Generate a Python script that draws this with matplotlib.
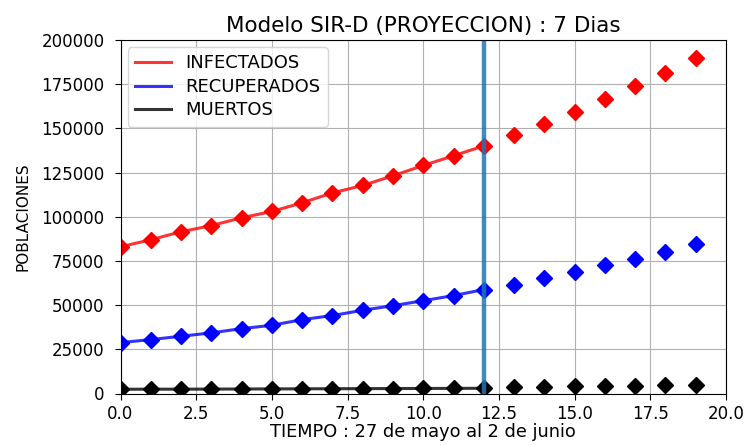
import numpy as np
import matplotlib
matplotlib.use("Agg")
from matplotlib import pyplot as plt

# dias observados y proyectados
dias = list(range(0, 13))
dias_proy = list(range(13, 20))

infectados = [83000, 87000, 91500, 95000, 99400, 103000, 107900, 113500,
              117700, 123200, 129000, 134500, 140100]
recuperados = [28800, 30500, 32400, 34300, 36700, 38600, 41800, 44100,
               47100, 49700, 52500, 55400, 58800]
muertos = [2400, 2450, 2450, 2500, 2550, 2600, 2650, 2700, 2750, 2800,
           2850, 2900, 2950]

infectados_proy = [146300, 152500, 159300, 166700, 174000, 181500, 189600]
recuperados_proy = [61600, 65400, 68800, 72900, 76300, 80100, 84700]
muertos_proy = [3900, 3950, 4000, 4050, 4100, 4900, 5000]

corte = 12

fig = plt.figure(figsize=(7.45, 4.45), dpi=100)
ax = fig.add_axes([120.5 / 745, 1 - 393.5 / 445, (726 - 120.5) / 745, (393.5 - 40) / 445])

ax.plot(dias, infectados, color="red", lw=2.2, alpha=0.8, label="INFECTADOS")
ax.plot(dias, recuperados, color="blue", lw=2.2, alpha=0.8, label="RECUPERADOS")
ax.plot(dias, muertos, color="black", lw=2.2, alpha=0.8, label="MUERTOS")

ax.plot(dias, infectados, "D", color="red", ms=8.5)
ax.plot(dias, recuperados, "D", color="blue", ms=8.5)
ax.plot(dias, muertos, "D", color="black", ms=8.5)
ax.plot(dias_proy, infectados_proy, "D", color="red", ms=8.5)
ax.plot(dias_proy, recuperados_proy, "D", color="blue", ms=8.5)
ax.plot(dias_proy, muertos_proy, "D", color="black", ms=8.5)

# corte entre datos reales y proyeccion
ax.axvline(corte, color="C0", lw=3.2, alpha=0.85)

ax.set_xlim(0, 20)
ax.set_ylim(0, 200000)
ax.grid(True)
ax.tick_params(labelsize=12, length=4.5)
ax.tick_params(axis="x", pad=4)
ax.tick_params(axis="y", pad=7)
ax.set_title("Modelo SIR-D (PROYECCION) : 7 Dias", fontsize=15.5)
ax.set_xlabel("TIEMPO : 27 de mayo al 2 de junio", fontsize=12.8, labelpad=0)
ax.set_ylabel("POBLACIONES", fontsize=11, labelpad=8)
ax.legend(loc="upper left", fontsize=13, labelspacing=0.3, borderaxespad=0.4)

fig.savefig("out.png", dpi=100)
